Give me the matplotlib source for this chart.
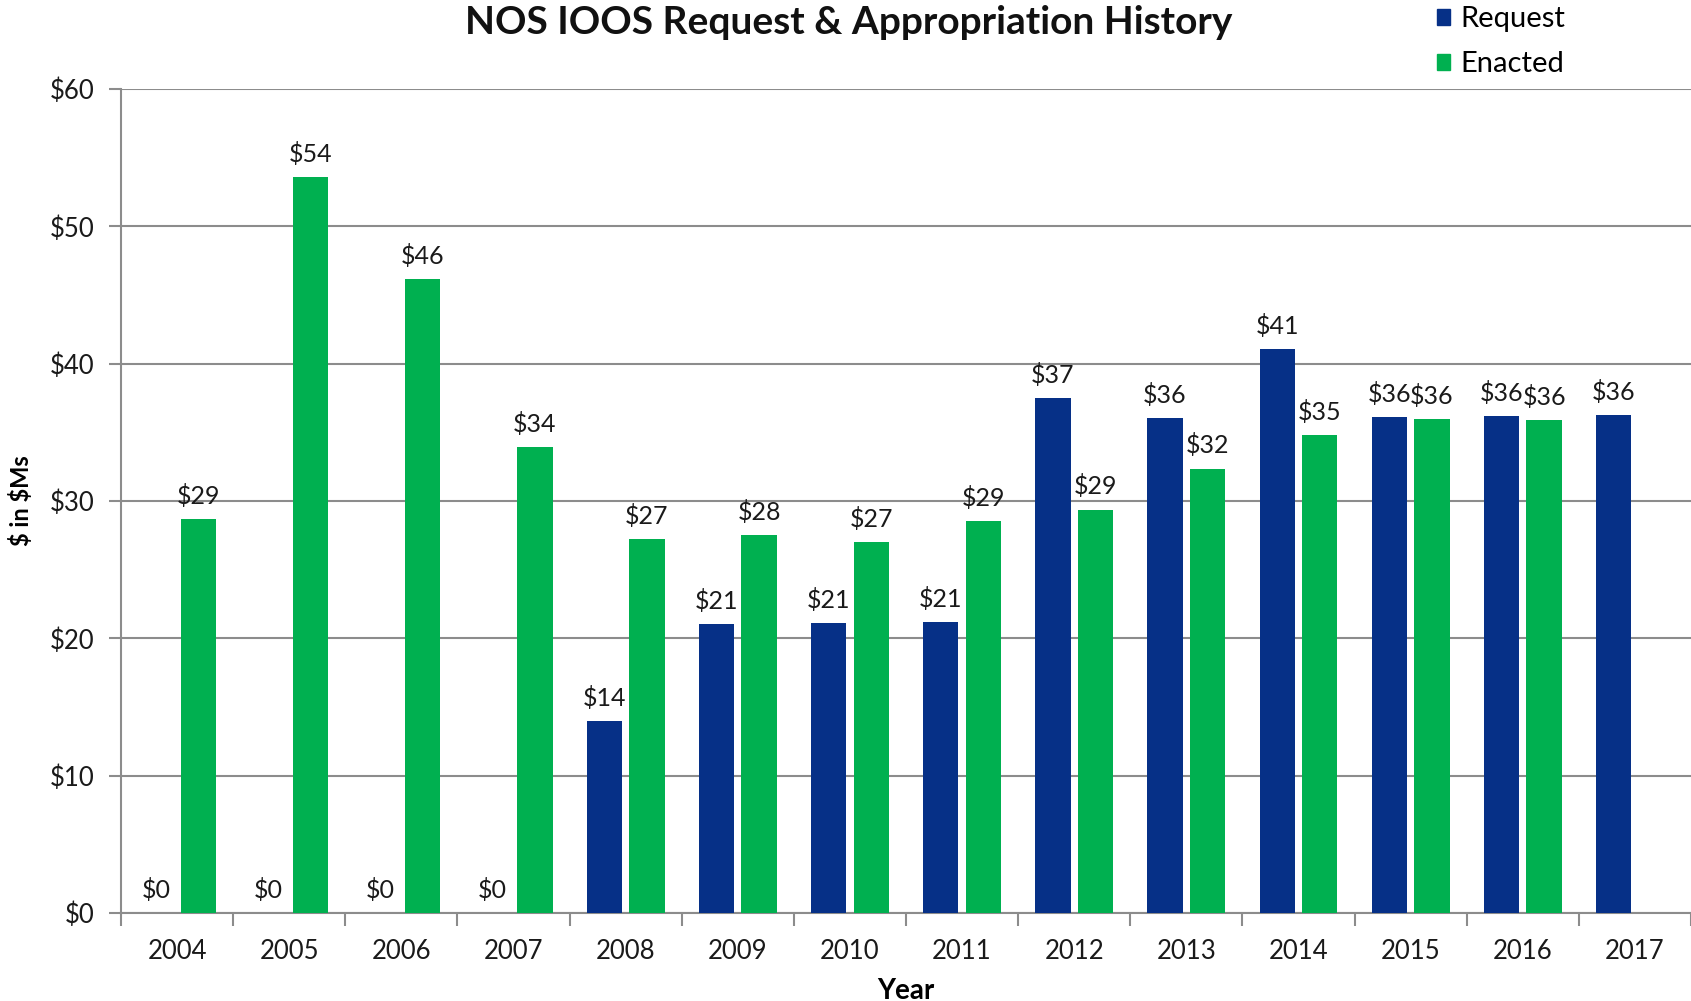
import numpy as np
import matplotlib
matplotlib.use('Agg')
import matplotlib.pyplot as plt
from matplotlib.patches import Patch

years = ['2004', '2005', '2006', '2007', '2008', '2009', '2010',
         '2011', '2012', '2013', '2014', '2015', '2016', '2017']
request = [0, 0, 0, 0, 14.0, 21.05, 21.13, 21.2, 37.47, 36.06, 41.08, 36.14, 36.21, 36.29]
enacted = [28.67, 53.57, 46.19, 33.94, 27.26, 27.52, 27.02, 28.55, 29.38, 32.36, 34.8, 35.98, 35.9, None]

c_req = '#063087'
c_ena = '#00b050'
grid_c = '#8c8c8c'
plt.rcParams['font.family'] = ['Lato', 'DejaVu Sans']

fig = plt.figure(figsize=(16.91, 10.01), dpi=100)
ax = fig.add_axes([0.0716, 0.088, 0.9284, 0.823])

x = np.arange(len(years))
off = 0.19
w = 0.315
for i, v in enumerate(request):
    ax.bar(x[i] - off, v, w, color=c_req, zorder=3)
    ax.annotate(f'${v:.0f}', (x[i] - off, v), xytext=(0, 8), textcoords='offset points',
                ha='center', va='bottom', fontsize=18, color='#1a1a1a')
for i, v in enumerate(enacted):
    if v is None:
        continue
    ax.bar(x[i] + off, v, w, color=c_ena, zorder=3)
    ax.annotate(f'${v:.0f}', (x[i] + off, v), xytext=(0, 8), textcoords='offset points',
                ha='center', va='bottom', fontsize=18, color='#1a1a1a')

ax.set_xlim(-0.5, len(years) - 0.5)
ax.set_ylim(0, 60)
ax.set_yticks(range(0, 61, 10))
ax.set_yticklabels([f'${t}' for t in range(0, 61, 10)], fontsize=18.5, color='#1a1a1a')
ax.yaxis.grid(True, color=grid_c, lw=1.5, zorder=0)
ax.set_xticks(x)
ax.set_xticklabels(years, fontsize=18.5, color='#1a1a1a')
ax.set_xticks(np.arange(-0.5, len(years)), minor=True)
ax.tick_params(axis='x', which='major', length=0, pad=19)
ax.tick_params(axis='x', which='minor', length=9, width=1.5, color=grid_c)
ax.tick_params(axis='y', length=9, width=1.5, color=grid_c, pad=10)
for s in ['top', 'right']:
    ax.spines[s].set_visible(False)
for s in ['left', 'bottom']:
    ax.spines[s].set_color(grid_c)
    ax.spines[s].set_linewidth(1.5)

ax.set_xlabel('Year', fontsize=20, fontweight='bold', labelpad=10)
ax.set_ylabel(r'\$ in \$Ms', fontsize=17, fontweight='bold', labelpad=12)

fig.text(0.502, 0.978, 'NOS IOOS Request & Appropriation History', ha='center', va='center',
         fontsize=28, fontweight='bold', color='#111111')

handles = [Patch(color=c_req, label='Request'), Patch(color=c_ena, label='Enacted')]
fig.legend(handles=handles, loc='upper left', bbox_to_anchor=(0.834, 1.02), frameon=False,
           fontsize=21, handlelength=0.45, handleheight=0.45, handletextpad=0.35,
           labelspacing=0.65)

plt.savefig('out.png', dpi=100)
